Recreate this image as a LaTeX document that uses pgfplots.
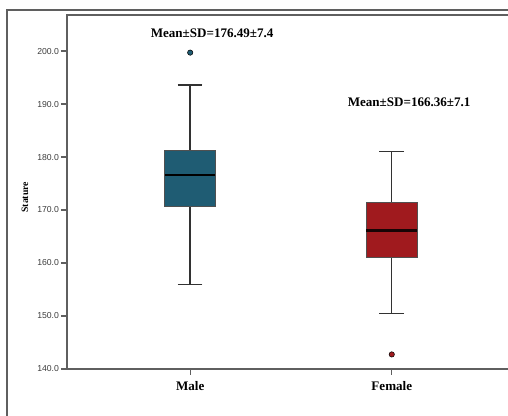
\documentclass[border=0pt]{standalone}
\usepackage{fontspec}
\setmainfont{Liberation Serif}
\newfontfamily\arial{Liberation Sans}
\usepackage{pgfplots}
\pgfplotsset{compat=1.18}
\usepgfplotslibrary{statistics}
\definecolor{maleC}{RGB}{31,92,115}
\definecolor{femaleC}{RGB}{160,26,30}
\definecolor{axC}{RGB}{95,95,95}
\definecolor{whC}{RGB}{50,50,50}
\begin{document}
\begin{tikzpicture}
\path[use as bounding box] (0,0) rectangle (381pt,-312pt);
\clip (0,0) rectangle (381pt,-312pt);
\draw[axC, line width=1.1pt] (5.25pt,-500pt) -- (5.25pt,-7.5pt) -- (600pt,-7.5pt);
\begin{axis}[
  at={(50.25pt,-276.75pt)}, anchor=south west,
  scale only axis, width=339.75pt, height=265.5pt,
  xmin=0.389, xmax=2.636, ymin=140, ymax=206.8,
  axis line style={axC, line width=1.1pt},
  tick style={axC, line width=0.9pt},
  tick align=outside, major tick length=4.5pt,
  xtick={1,2}, xticklabels={Male,Female}, xtick pos=bottom,
  ytick={140,150,...,200}, ytick pos=left,
  xticklabel style={font=\bfseries\fontsize{9.8}{11}\selectfont, text=black, yshift=-1pt},
  yticklabel style={font=\arial\fontsize{6.5}{8}\selectfont, text={rgb,255:red,60;green,60;blue,60}, xshift=2pt},
  /pgf/number format/assume math mode=true,
  yticklabel={\pgfmathprintnumber[fixed,fixed zerofill,precision=1]{\tick}},
  ylabel={\bfseries Stature},
  ylabel style={font=\fontsize{7.3}{9}\selectfont, at={(axis description cs:-0.0927,0.485)}, anchor=center},
  boxplot/draw direction=y,
  boxplot/box extend=0.251,
  boxplot/whisker extend=0.122,
  clip=false,
]
\addplot+[
  boxplot prepared={draw position=1, median=176.6, upper quartile=181.25, lower quartile=170.6, upper whisker=193.6, lower whisker=155.9},
  fill=maleC, draw=whC, line width=1.1pt,
  boxplot/every box/.style={draw={rgb,255:red,80;green,80;blue,80}, line width=0.6pt, fill=maleC},
  boxplot/every median/.style={black, line width=1.8pt},
  boxplot/every whisker/.style={whC, line width=1.1pt},
  mark=*, mark size=2pt, mark options={fill=maleC, draw=black, line width=0.4pt}
] coordinates {(1,199.7)};
\addplot+[
  boxplot prepared={draw position=2, median=166.1, upper quartile=171.4, lower quartile=161.1, upper whisker=181.1, lower whisker=150.5},
  fill=femaleC, draw=whC, line width=0.9pt,
  boxplot/every box/.style={draw={rgb,255:red,80;green,80;blue,80}, line width=0.6pt, fill=femaleC},
  boxplot/every median/.style={black!85!femaleC, line width=1.8pt},
  boxplot/every whisker/.style={whC, line width=0.9pt},
  mark=*, mark size=2pt, mark options={fill=femaleC, draw=black, line width=0.4pt}
] coordinates {(2,142.75)};
\node[font=\bfseries\fontsize{9.8}{11}\selectfont] at (axis cs:1.109,203.4) {Mean±SD=176.49±7.4};
\node[font=\bfseries\fontsize{9.8}{11}\selectfont] at (axis cs:2.086,190.4) {Mean±SD=166.36±7.1};
\end{axis}
\end{tikzpicture}
\end{document}
